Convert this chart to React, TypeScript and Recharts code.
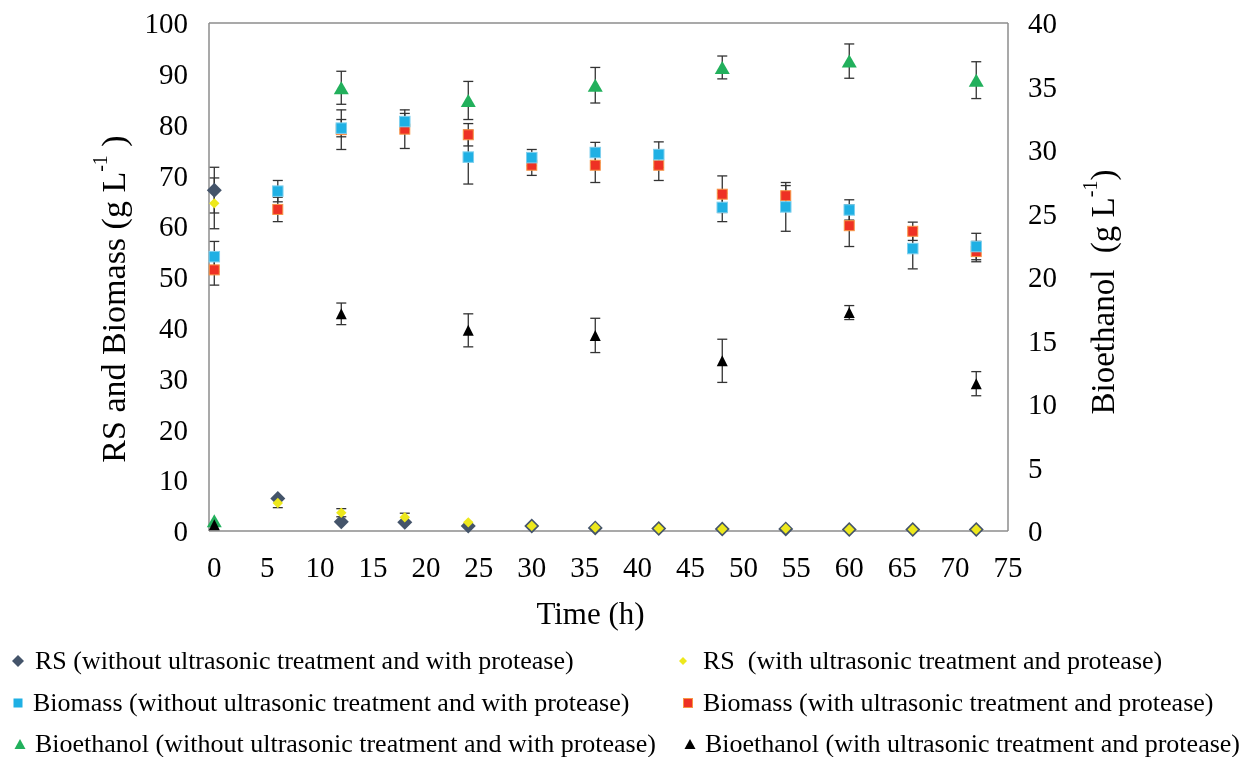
import React from 'react'
import { ScatterChart, Scatter, XAxis, YAxis, ErrorBar, ReferenceLine, Label } from 'recharts'

const FONT = '"Liberation Serif", "Times New Roman", serif'
const AXIS_GREY = '#8c8c8c'
const ERR_COLOR = '#333333'

// sampling times (h)
const time = [0, 6, 12, 18, 24, 30, 36, 42, 48, 54, 60, 66, 72]
const ethanolTime = [0, 12, 24, 36, 48, 60, 72]

const xTicks = [0, 5, 10, 15, 20, 25, 30, 35, 40, 45, 50, 55, 60, 65, 70, 75]
const leftTicks = [0, 10, 20, 30, 40, 50, 60, 70, 80, 90, 100]
const rightTicks = [0, 5, 10, 15, 20, 25, 30, 35, 40]

// RS (g/L)
const rsWithout = [67.1, 6.4, 1.8, 1.7, 1.0, 1.0, 0.6, 0.5, 0.4, 0.4, 0.3, 0.3, 0.3]
const rsWithoutErr = [4.5, 0, 0, 0, 0, 0, 0, 0, 0, 0, 0, 0, 0]
const rsWith = [64.5, 5.5, 3.6, 2.7, 1.7, 1.0, 0.7, 0.5, 0.4, 0.5, 0.3, 0.3, 0.3]
const rsWithErr = [5.0, 0.9, 0.8, 0.8, 0, 0, 0, 0, 0, 0, 0, 0, 0]

// Biomass (g/L)
const bioWithout = [54.0, 66.9, 79.3, 80.6, 73.6, 73.5, 74.5, 74.1, 63.7, 63.8, 63.2, 55.6, 56.0]
const bioWithoutErr = [3.0, 2.1, 1.7, 1.6, 5.3, 1.6, 2.0, 2.5, 2.8, 4.8, 2.0, 4.0, 2.6]
const bioWith = [51.4, 63.3, 79.0, 79.1, 78.0, 72.0, 72.0, 72.0, 66.3, 66.0, 60.1, 59.0, 55.0]
const bioWithErr = [3.0, 2.4, 3.9, 3.8, 2.2, 2.0, 3.4, 3.0, 3.6, 2.0, 4.1, 1.8, 2.0]

// Bioethanol (g/L), right axis
const ethWithout = [0.8, 34.9, 33.9, 35.1, 36.5, 37.0, 35.5]
const ethWithoutErr = [0, 1.3, 1.5, 1.4, 0.9, 1.35, 1.45]
const ethWith = [0.5, 17.1, 15.8, 15.4, 13.4, 17.2, 11.6]
const ethWithErr = [0, 0.85, 1.3, 1.35, 1.7, 0.55, 0.95]

const toPoints = (xs: number[], ys: number[], errs: number[]) =>
  xs.map((t, i) => ({ t, v: ys[i], err: errs[i] }))

const diamond = (r: number, fill: string) => (props: any) => {
  const { cx, cy } = props
  return <polygon points={`${cx},${cy - r} ${cx + r},${cy} ${cx},${cy + r} ${cx - r},${cy}`} fill={fill} />
}

const square = (s: number, fill: string, stroke: string) => (props: any) => {
  const { cx, cy } = props
  return <rect x={cx - s / 2} y={cy - s / 2} width={s} height={s} fill={fill} stroke={stroke} strokeWidth={1} />
}

const triangle = (w: number, h: number, fill: string) => (props: any) => {
  const { cx, cy } = props
  return (
    <polygon
      points={`${cx},${cy - h / 2} ${cx + w / 2},${cy + h / 2} ${cx - w / 2},${cy + h / 2}`}
      fill={fill}
    />
  )
}

const TICK_SIZE = 29

const bottomTick = (props: any) => (
  <text x={props.x} y={props.y} dy="0.71em" textAnchor="middle" fontSize={TICK_SIZE} fontFamily={FONT} fill="#000">
    {props.payload.value}
  </text>
)
const leftTick = (props: any) => (
  <text x={props.x} y={props.y} dy="0.35em" textAnchor="end" fontSize={TICK_SIZE} fontFamily={FONT} fill="#000">
    {props.payload.value}
  </text>
)
const rightTick = (props: any) => (
  <text x={props.x} y={props.y} dy="0.35em" textAnchor="start" fontSize={TICK_SIZE} fontFamily={FONT} fill="#000">
    {props.payload.value}
  </text>
)

const leftTitle = (props: any) => {
  const { viewBox } = props
  const x = viewBox.x + 105
  const y = viewBox.y + viewBox.height / 2 + 22
  return (
    <text x={x} y={y} transform={`rotate(-90, ${x}, ${y})`} textAnchor="middle" dominantBaseline="central"
      fontSize={34} fontFamily={FONT} fill="#000">
      RS and Biomass (g L<tspan dy={-13} fontSize={20}>-1</tspan><tspan dy={13}>{'\u00a0)'}</tspan>
    </text>
  )
}

const rightTitle = (props: any) => {
  const { viewBox } = props
  const x = viewBox.x + 95
  const y = viewBox.y + viewBox.height / 2 + 15
  return (
    <text x={x} y={y} transform={`rotate(-90, ${x}, ${y})`} textAnchor="middle" dominantBaseline="central"
      fontSize={33} fontFamily={FONT} fill="#000">
      {'Bioethanol\u00a0\u00a0(g L'}<tspan dy={-13} fontSize={20}>-1</tspan><tspan dy={13}>)</tspan>
    </text>
  )
}

const bottomTitle = (props: any) => {
  const { viewBox } = props
  const x = viewBox.x + viewBox.width / 2 - 18
  const y = viewBox.y + 82
  return (
    <text x={x} y={y} textAnchor="middle" dominantBaseline="central" fontSize={31} fontFamily={FONT} fill="#000">
      Time (h)
    </text>
  )
}

const legendRows = [
  [
    { name: 'RS (without ultrasonic treatment and with protease)', marker: 'diamond', color: '#44546A', x: 10, textX: 27 },
    { name: 'RS\u00a0\u00a0(with ultrasonic treatment and protease)', marker: 'smallDiamond', color: '#EDE81C', x: 675, textX: 695 },
  ],
  [
    { name: 'Biomass (without ultrasonic treatment and with protease)', marker: 'square', color: '#1FB0E4', x: 10, textX: 25 },
    { name: 'Biomass (with ultrasonic treatment and protease)', marker: 'squareRed', color: '#EE3124', x: 680, textX: 695 },
  ],
  [
    { name: 'Bioethanol (without ultrasonic treatment and with protease)', marker: 'triangle', color: '#22B05C', x: 12, textX: 27 },
    { name: 'Bioethanol (with ultrasonic treatment and protease)', marker: 'triangle', color: '#000000', x: 682, textX: 697 },
  ],
]
const legendRowY = [653, 695, 736]

const LegendMarker = ({ marker, color }: { marker: string; color: string }) => {
  if (marker === 'diamond')
    return <svg width={14} height={14}><polygon points="7,1 13,7 7,13 1,7" fill={color} /></svg>
  if (marker === 'smallDiamond')
    return <svg width={14} height={14}><polygon points="7,3 11,7 7,11 3,7" fill={color} /></svg>
  if (marker === 'square')
    return <svg width={14} height={14}><rect x={2.5} y={2.5} width={9} height={9} fill={color} /></svg>
  if (marker === 'squareRed')
    return <svg width={14} height={14}><rect x={2.5} y={2.5} width={9} height={9} fill={color} stroke="#F79646" /></svg>
  return <svg width={14} height={14}><polygon points="7,2 12.5,12 1.5,12" fill={color} /></svg>
}

const App = () => {
  return (
    <div style={{ position: 'fixed', left: 8, top: 8, width: 1237, height: 749, fontFamily: FONT, overflow: 'hidden' }}>
      <ScatterChart width={1237} height={630} margin={{ top: 15, right: 107, bottom: 27, left: 0 }}>
        <XAxis
          type="number"
          dataKey="t"
          domain={[-0.5, 75]}
          ticks={xTicks}
          interval={0}
          height={80}
          tick={bottomTick}
          tickSize={0}
          tickMargin={25}
          axisLine={{ stroke: AXIS_GREY, strokeWidth: 1.5 }}
          tickLine={false}
        >
          <Label content={bottomTitle} />
        </XAxis>
        <YAxis
          yAxisId="left"
          type="number"
          dataKey="v"
          domain={[0, 100]}
          ticks={leftTicks}
          interval={0}
          width={201}
          tick={leftTick}
          tickSize={0}
          tickMargin={21}
          axisLine={{ stroke: AXIS_GREY, strokeWidth: 1.5 }}
          tickLine={false}
        >
          <Label content={leftTitle} />
        </YAxis>
        <YAxis
          yAxisId="right"
          orientation="right"
          type="number"
          dataKey="v"
          domain={[0, 40]}
          ticks={rightTicks}
          interval={0}
          width={130}
          tick={rightTick}
          tickSize={0}
          tickMargin={20}
          axisLine={{ stroke: AXIS_GREY, strokeWidth: 1.5 }}
          tickLine={false}
        >
          <Label content={rightTitle} />
        </YAxis>
        <ReferenceLine yAxisId="left" y={100} stroke={AXIS_GREY} strokeWidth={1.5} />

        <Scatter
          name="RS (without ultrasonic treatment and with protease)"
          yAxisId="left"
          data={toPoints(time, rsWithout, rsWithoutErr)}
          dataKey="v"
          fill="#44546A"
          shape={diamond(7.5, '#44546A')}
          isAnimationActive={false}
        >
          <ErrorBar dataKey="err" direction="y" width={5} stroke={ERR_COLOR} strokeWidth={1.3} />
        </Scatter>
        <Scatter
          name="RS (with ultrasonic treatment and protease)"
          yAxisId="left"
          data={toPoints(time, rsWith, rsWithErr)}
          dataKey="v"
          fill="#EDE81C"
          shape={diamond(5.2, '#EDE81C')}
          isAnimationActive={false}
        >
          <ErrorBar dataKey="err" direction="y" width={5} stroke={ERR_COLOR} strokeWidth={1.3} />
        </Scatter>
        <Scatter
          name="Biomass (with ultrasonic treatment and protease)"
          yAxisId="left"
          data={toPoints(time, bioWith, bioWithErr)}
          dataKey="v"
          fill="#EE3124"
          shape={square(10, '#EE3124', '#F79646')}
          isAnimationActive={false}
        >
          <ErrorBar dataKey="err" direction="y" width={5} stroke={ERR_COLOR} strokeWidth={1.3} />
        </Scatter>
        <Scatter
          name="Biomass (without ultrasonic treatment and with protease)"
          yAxisId="left"
          data={toPoints(time, bioWithout, bioWithoutErr)}
          dataKey="v"
          fill="#1FB0E4"
          shape={square(10.5, '#1FB0E4', '#7FD0EE')}
          isAnimationActive={false}
        >
          <ErrorBar dataKey="err" direction="y" width={5} stroke={ERR_COLOR} strokeWidth={1.3} />
        </Scatter>
        <Scatter
          name="Bioethanol (without ultrasonic treatment and with protease)"
          yAxisId="right"
          data={toPoints(ethanolTime, ethWithout, ethWithoutErr)}
          dataKey="v"
          fill="#22B05C"
          shape={triangle(15, 13, '#22B05C')}
          isAnimationActive={false}
        >
          <ErrorBar dataKey="err" direction="y" width={5} stroke={ERR_COLOR} strokeWidth={1.3} />
        </Scatter>
        <Scatter
          name="Bioethanol (with ultrasonic treatment and protease)"
          yAxisId="right"
          data={toPoints(ethanolTime, ethWith, ethWithErr)}
          dataKey="v"
          fill="#000000"
          shape={triangle(11, 11, '#000000')}
          isAnimationActive={false}
        >
          <ErrorBar dataKey="err" direction="y" width={5} stroke={ERR_COLOR} strokeWidth={1.3} />
        </Scatter>
      </ScatterChart>

      {legendRows.map((row, ri) =>
        row.map((item) => (
          <React.Fragment key={item.name}>
            <div style={{ position: 'absolute', left: item.x - 7, top: legendRowY[ri] - 7, width: 14, height: 14, lineHeight: 0 }}>
              <LegendMarker marker={item.marker} color={item.color} />
            </div>
            <div
              style={{
                position: 'absolute',
                left: item.textX,
                top: legendRowY[ri] - 12,
                height: 24,
                lineHeight: '24px',
                fontSize: 26,
                whiteSpace: 'nowrap',
                color: '#000',
              }}
            >
              {item.name}
            </div>
          </React.Fragment>
        ))
      )}
    </div>
  )
}

export default App
